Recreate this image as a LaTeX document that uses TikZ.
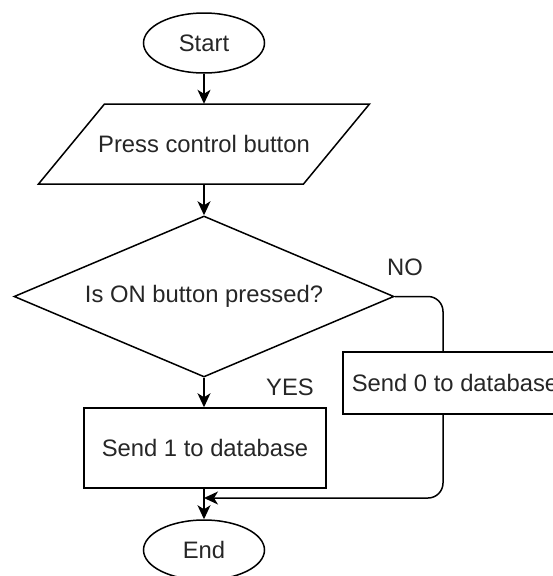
\documentclass[tikz,border=0pt]{standalone}
\usepackage{fontspec}
\setmainfont{Liberation Sans}
\usetikzlibrary{shapes.geometric,arrows.meta}
\begin{document}
\begin{tikzpicture}[x=1pt,y=-1pt,
  every node/.style={font=\fontsize{23.8}{28}\selectfont, text=black!85},
  shapeline/.style={draw=black, line width=1.5pt},
  flow/.style={draw=black, line width=1.5pt, -{Stealth[length=14pt,width=13pt,inset=4pt]}},
  terminal/.style={shapeline, ellipse, minimum width=121pt, minimum height=60pt, inner sep=0pt},
  process/.style={shapeline, rectangle, fill=white, inner sep=0pt},
  decision/.style={shapeline, diamond, aspect=2.36, inner sep=0pt},
  lbl/.style={inner sep=0pt}]
\useasboundingbox (0,0) rectangle (552,576);

% start / input
\node[terminal] (start) at (204,43) {Start};
\node[minimum width=265pt, minimum height=80pt, inner sep=0pt] (input) at (204,144) {Press control button};
\draw[shapeline] (104.5,104) -- (369.5,104) -- (303.5,184) -- (38.5,184) -- cycle;

% decision
\node[decision, minimum width=380pt, minimum height=161pt] (check) at (204,296.5) {Is ON button pressed?};

% YES branch
\node[process, minimum width=242pt, minimum height=80pt] (one) at (205,448) {Send 1 to database};
\coordinate (merge) at (204,498);
\node[terminal] (end) at (204,550) {End};

% NO branch: line runs behind the box and returns to the main flow
\draw[flow, rounded corners=15pt] (check.east) -- (443,296.5) -- (443,498) -- (merge);
\node[process, minimum width=224pt, minimum height=62pt] (zero) at (455,383) {Send 0 to database};

% main flow
\draw[flow] (start) -- (input);
\draw[flow] (input) -- (check);
\draw[flow] (check.south) -- (check.south |- one.north);
\draw[flow] (check.south |- one.south) -- (end.north);

% branch labels
\node[lbl] (no) at (405,267) {NO};
\node[lbl] (yes) at (290,387) {YES};
\end{tikzpicture}
\end{document}
